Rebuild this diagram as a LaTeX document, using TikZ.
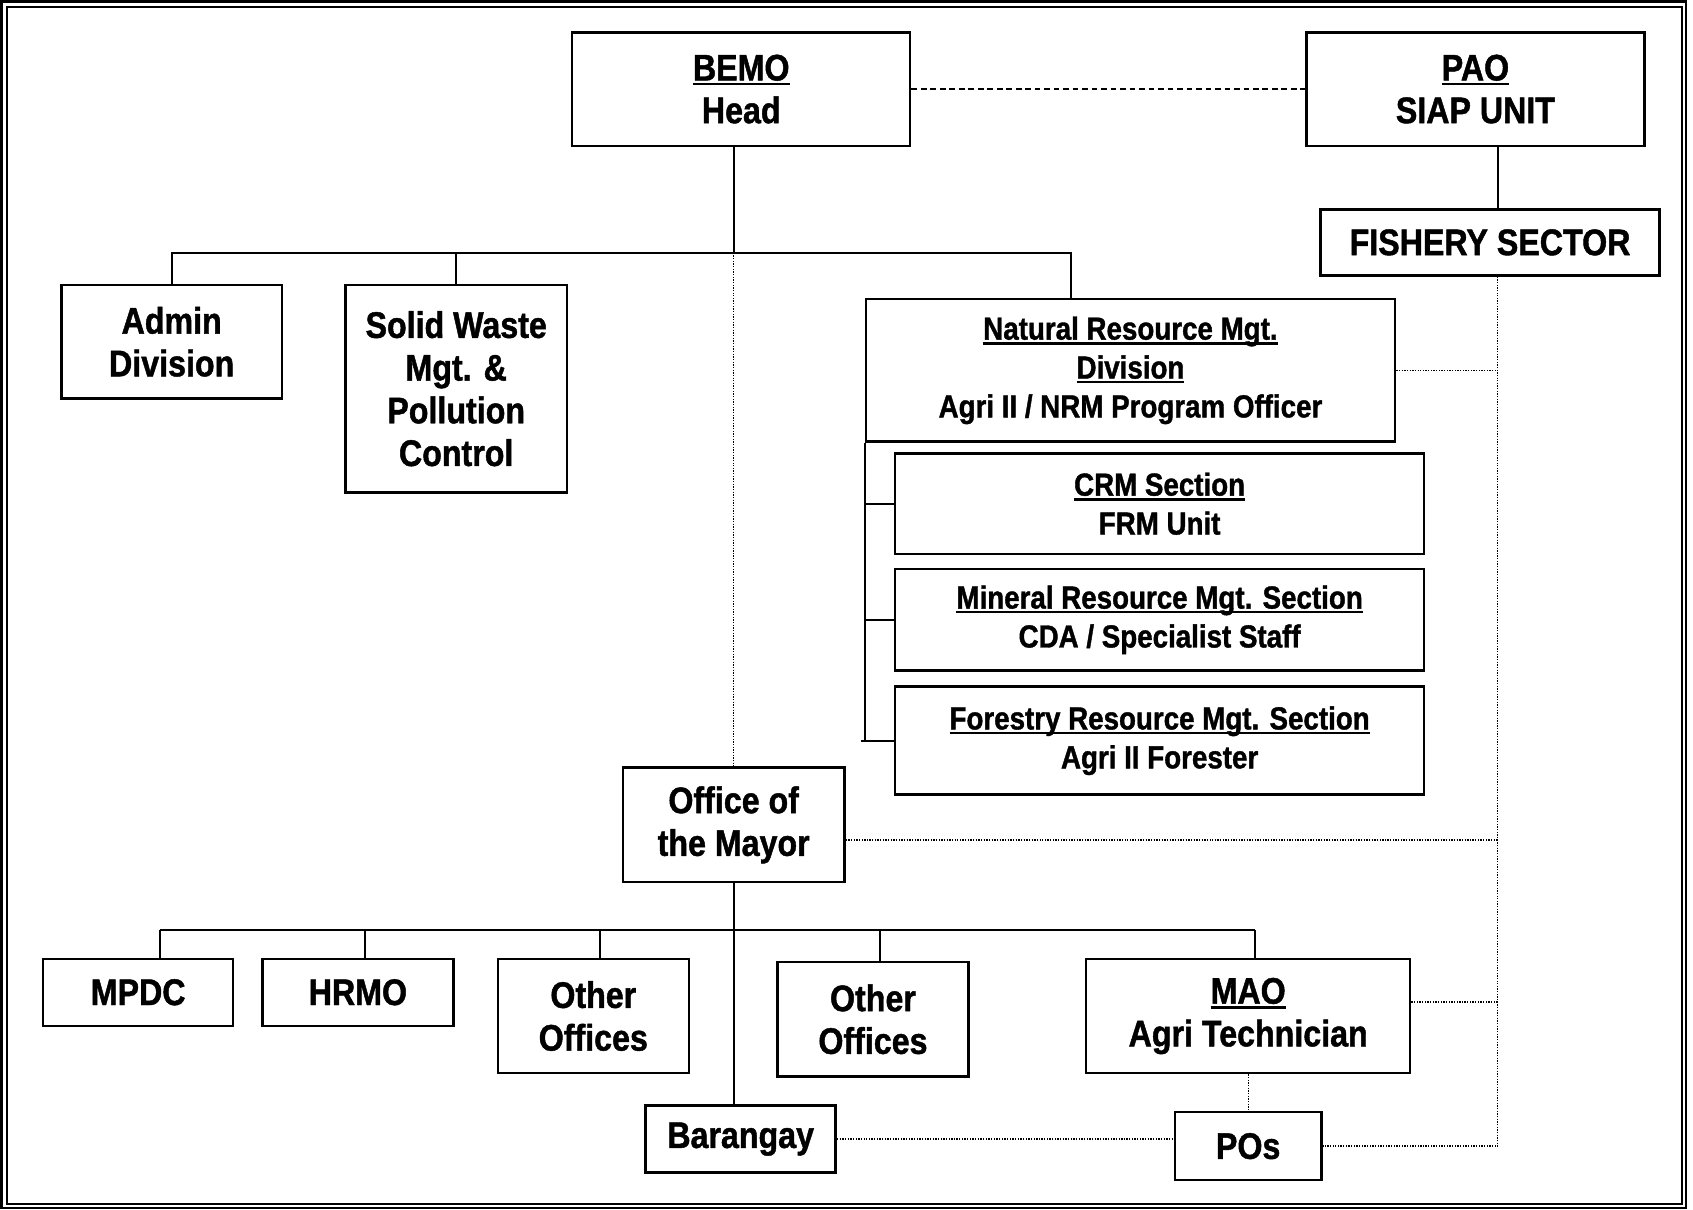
\documentclass[tikz,border=0pt]{standalone}
\usepackage{fontspec}
\setmainfont{Liberation Sans}[FakeStretch=0.87,FakeBold=1.2]
\usetikzlibrary{calc}
\newcommand\ulbox[1]{\setbox0\hbox{#1}\rlap{\rule[-2.6pt]{\wd0}{1.3pt}}\box0}

\begin{document}
\begin{tikzpicture}[
  box/.style={draw,line width=1.3pt,align=center,inner sep=2pt,font=\bfseries\fontsize{19.5}{22.5}\selectfont},
  sbox/.style={box,font=\bfseries\fontsize{16.8}{20.5}\selectfont},
  link/.style={line width=1pt},
  dots/.style={line width=0.7pt,dash pattern=on 0.7pt off 0.7pt},
  dashlink/.style={line width=0.9pt,dash pattern=on 3pt off 2pt}
]
\useasboundingbox (0,0) rectangle (31.36,-22.4);
\draw[line width=1.3pt] (0.03,-0.03) rectangle (31.23,-22.38);
\draw[line width=1.1pt] (0.13,-0.13) rectangle (31.15,-22.3);

\node[box,minimum width=6.26cm,minimum height=2.1cm] (bemo) at (13.73,-1.65) {\ulbox{BEMO}\\Head};
\node[box,minimum width=6.26cm,minimum height=2.1cm] (pao) at (27.33,-1.65) {\ulbox{PAO}\\SIAP UNIT};
\node[box,minimum width=6.28cm,minimum height=1.22cm] (fish) at (27.6,-4.49) {FISHERY SECTOR};

\node[box,minimum width=4.08cm,minimum height=2.1cm] (admin) at (3.18,-6.33) {Admin\\Division};
\node[box,minimum width=4.1cm,minimum height=3.84cm] (swm) at (8.45,-7.2) {Solid Waste\\Mgt. \&\\Pollution\\Control};
\node[sbox,minimum width=9.8cm,minimum height=2.64cm] (nrm) at (20.94,-6.86) {\ulbox{Natural Resource Mgt.}\\\ulbox{Division}\\Agri II / NRM Program Officer};
\node[sbox,minimum width=9.8cm,minimum height=1.86cm] (crm) at (21.48,-9.33) {\ulbox{CRM Section}\\FRM Unit};
\node[sbox,minimum width=9.8cm,minimum height=1.88cm] (mrm) at (21.48,-11.48) {\ulbox{Mineral Resource Mgt. Section}\\CDA / Specialist Staff};
\node[sbox,minimum width=9.8cm,minimum height=2cm] (frm) at (21.48,-13.72) {\ulbox{Forestry Resource Mgt. Section}\\Agri II Forester};

\node[box,minimum width=4.1cm,minimum height=2.12cm] (mayor) at (13.59,-15.28) {Office of\\the Mayor};

\node[box,minimum width=3.52cm,minimum height=1.24cm] (mpdc) at (2.56,-18.38) {MPDC};
\node[box,minimum width=3.54cm,minimum height=1.24cm] (hrmo) at (6.63,-18.38) {HRMO};
\node[box,minimum width=3.54cm,minimum height=2.12cm] (oth1) at (10.99,-18.82) {Other\\Offices};
\node[box,minimum width=3.54cm,minimum height=2.12cm] (oth2) at (16.17,-18.88) {Other\\Offices};
\node[box,minimum width=6cm,minimum height=2.12cm] (mao) at (23.12,-18.82) {\ulbox{MAO}\\Agri Technician};
\node[box,minimum width=3.52cm,minimum height=1.24cm] (brgy) at (13.72,-21.1) {Barangay};
\node[box,minimum width=2.72cm,minimum height=1.26cm] (pos) at (23.12,-21.23) {POs};

\coordinate (rail) at (27.74,0);
\coordinate (busa) at (0,-4.68);
\coordinate (nrmdrop) at (19.84,0);
\coordinate (bl) at (2.96,-17.22);
\coordinate (br) at (23.24,-17.22);

% BEMO side
\draw[dashlink] (bemo.east) -- (pao.west);
\draw[link] (pao.south -| rail) -- (fish.north -| rail);
\draw[link] (bemo.south -| mayor.north) -- (mayor.north |- busa);
\draw[dots] (mayor.north |- busa) -- (mayor.north);
\draw[link] (admin.north) |- (nrmdrop |- busa) -- (nrmdrop |- nrm.north);
\draw[link] (swm.north) -- (swm.north |- busa);

\draw[link] (nrm.south west) -- (nrm.south west |- frm.west) -- (frm.west);
\draw[link] ($(nrm.south west |- frm.west)+(-0.06,0)$) -- (nrm.south west |- frm.west);
\draw[link] (crm.west -| nrm.west) -- (crm.west);
\draw[link] (mrm.west -| nrm.west) -- (mrm.west);

% mayor side
\draw[link] (mayor.south) -- (mayor.south |- brgy.north);
\draw[link] (bl) -- (br);
\foreach \n/\dx in {mpdc/0.4,hrmo/0.13,oth1/0.13,oth2/0.13,mao/0.12}
  \draw[link] ($(\n.north)+(\dx,0)$) coordinate (t) -- (t |- bl);

% fishery links
\draw[dots] (fish.south -| rail) -- (pos.east -| rail) -- (pos.east);
\draw[dots] (nrm.east) -- (nrm.east -| rail);
\draw[dots] ($(mayor.east)+(0,-0.28)$) coordinate (m) -- (m -| rail);
\draw[dots] ($(mao.east)+(0,0.26)$) coordinate (m) -- (m -| rail);
\draw[dots] (mao.south) -- (pos.north);
\draw[dots] (brgy.east) -- (brgy.east -| pos.west);
\end{tikzpicture}
\end{document}
